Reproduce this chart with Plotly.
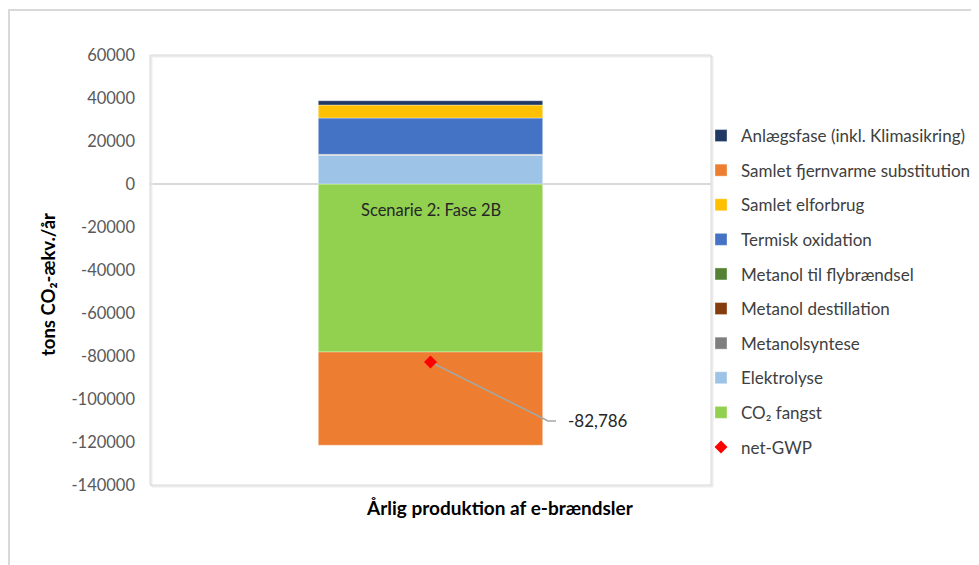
import plotly.graph_objects as go

category = ["Scenarie 2: Fase 2B"]
series_names = [
    "CO₂ fangst", "Elektrolyse", "Metanolsyntese", "Metanol destillation",
    "Metanol til flybrændsel", "Termisk oxidation", "Samlet elforbrug",
    "Samlet fjernvarme substitution", "Anlægsfase (inkl. Klimasikring)",
]
series_values = [-78140, 13350, 100, 300, 50, 16880, 6050, -43376, 2000]
series_colors = ["#92d050", "#9dc3e6", "#7f7f7f", "#843c0c", "#548235",
                 "#4472c4", "#ffc000", "#ed7d31", "#203864"]
legend_order = [
    "Anlægsfase (inkl. Klimasikring)", "Samlet fjernvarme substitution",
    "Samlet elforbrug", "Termisk oxidation", "Metanol til flybrændsel",
    "Metanol destillation", "Metanolsyntese", "Elektrolyse", "CO₂ fangst", "net-GWP",
]
net_gwp = -82786
y_ticks = [60000, 40000, 20000, 0, -20000, -40000, -60000, -80000,
           -100000, -120000, -140000]

OFF = 8  # page body margin
W, H = 979 - OFF, 565 - OFF
# page-pixel layout of plot area
PL, PR, PT, PB = 150, 711, 55, 485
L, T = PL - OFF, PT - OFF
pw, ph = PR - PL, PB - PT
R, B = W - L - pw, H - T - ph
ymin, ymax = -140000, 60000

def px2x(px):
    return (px - PL) / pw - 0.5

def px2paper(px):
    return (px - PL) / pw

def py2paper(py):
    return (PB - py) / ph

def dy_px(dpx):
    return -dpx * (ymax - ymin) / ph

FONT = "Lato"
traces = []
for name, val, col in zip(series_names, series_values, series_colors):
    traces.append(go.Bar(
        x=[0], y=[val], name=name, width=0.4, legendgroup=name,
        legendrank=legend_order.index(name) + 1,
        marker=dict(color=col, line=dict(color="rgba(255,255,255,0.6)", width=0.6)),
    ))

# leader line for the label
x1, y1 = px2x(548), net_gwp + dy_px(59)
x2 = px2x(556)
traces.append(go.Scatter(
    x=[0, x1, x2], y=[net_gwp, y1, y1], mode="lines",
    line=dict(color="#a6a6a6", width=1.5), showlegend=False, hoverinfo="skip",
))
traces.append(go.Scatter(
    x=[0], y=[net_gwp], mode="markers", name="net-GWP", legendgroup="net",
    legendrank=legend_order.index("net-GWP") + 1,
    marker=dict(symbol="diamond", color="#ff0000", size=10),
))
fig = go.Figure(data=traces)

fig.add_annotation(x=px2x(566), y=y1, text=f"{net_gwp:,}", showarrow=False,
                   xanchor="left", yanchor="middle",
                   font=dict(family=FONT, size=17, color="#262626"))
fig.add_annotation(x=0, y=dy_px(26), text=category[0], showarrow=False,
                   xanchor="center", yanchor="middle",
                   font=dict(family=FONT, size=16.5, color="#262626"))
fig.add_annotation(x=px2paper(500), y=py2paper(507), xref="paper", yref="paper",
                   text="<b>Årlig produktion af e-brændsler</b>", showarrow=False,
                   xanchor="center", yanchor="middle",
                   font=dict(family=FONT, size=19, color="#000000"))
fig.add_annotation(x=px2paper(48), y=py2paper(285), xref="paper", yref="paper",
                   text="<b>tons CO₂-ækv./år</b>", showarrow=False, textangle=-90,
                   xanchor="center", yanchor="middle",
                   font=dict(family=FONT, size=18.5, color="#000000"))

# zero line
fig.add_shape(type="line", xref="paper", yref="y", x0=0, x1=1, y0=0, y1=0,
              line=dict(color="#d9d9d9", width=2), layer="below")
# plot-area frame with soft shadow
for off, colr in [(2, "#eeeeee"), (1, "#e0e0e0")]:
    fig.add_shape(type="rect", xref="paper", yref="paper",
                  x0=off / pw, x1=1 + off / pw, y0=-off / ph, y1=1 - off / ph,
                  line=dict(color=colr, width=1), layer="below")
fig.add_shape(type="rect", xref="paper", yref="paper", x0=0, x1=1, y0=0, y1=1,
              line=dict(color="#d9d9d9", width=1), layer="below")
# outer chart border
fig.add_shape(type="line", xref="paper", yref="paper",
              x0=px2paper(8), x1=px2paper(990), y0=py2paper(10), y1=py2paper(10),
              line=dict(color="#d9d9d9", width=2))
fig.add_shape(type="line", xref="paper", yref="paper",
              x0=px2paper(9), x1=px2paper(9), y0=py2paper(10), y1=py2paper(580),
              line=dict(color="#d9d9d9", width=2))

fig.update_layout(
    width=W, height=H, margin=dict(l=L, r=R, t=T, b=B, pad=0, autoexpand=False),
    barmode="relative", paper_bgcolor="white", plot_bgcolor="white",
    font=dict(family=FONT, size=17, color="#404040"),
    showlegend=True,
    legend=dict(x=px2paper(701), xanchor="left", y=py2paper(118), yanchor="top",
                traceorder="grouped", tracegroupgap=9.5,
                font=dict(family=FONT, size=17, color="#404040"),
                bgcolor="rgba(0,0,0,0)"),
    xaxis=dict(range=[-0.5, 0.5], showticklabels=False, showgrid=False,
               zeroline=False, showline=False, fixedrange=True),
    yaxis=dict(range=[ymin, ymax], tickvals=y_ticks, ticktext=[str(v) for v in y_ticks],
               showgrid=False, zeroline=False, showline=False,
               ticks="", ticklabelstandoff=14,
               tickfont=dict(family=FONT, size=16.5, color="#595959")),
)
fig.write_html("out.html")
